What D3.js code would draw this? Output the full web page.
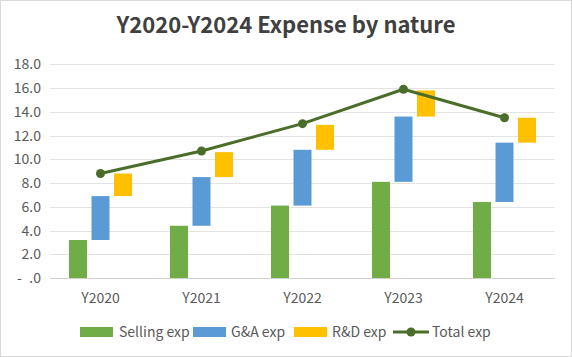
<!DOCTYPE html>
<html><head><meta charset="utf-8">
<script src="https://cdn.jsdelivr.net/npm/d3@7"></script>
<style>html,body{margin:0;padding:0;background:#fff;}</style>
</head><body>
<svg id="c" width="572" height="357"></svg>
<script>
const categories = ["Y2020","Y2021","Y2022","Y2023","Y2024"];
const sellingExp = [3.2, 4.4, 6.1, 8.1, 6.4];
const gaExp      = [3.7, 4.1, 4.7, 5.5, 5.0];
const rdExp      = [1.9, 2.1, 2.1, 2.2, 2.1];
const totalExp   = [8.8, 10.7, 13.0, 15.9, 13.5];
const yTicks = [0, 2, 4, 6, 8, 10, 12, 14, 16, 18];
const seriesNames = ["Selling exp", "G&A exp", "R&D exp", "Total exp"];

const svg = d3.select("#c");
const W = 572, H = 357;
const font = "'Noto Sans CJK SC', 'DejaVu Sans', sans-serif";
svg.append("rect").attr("x",0.5).attr("y",0.5).attr("width",W-1).attr("height",H-1)
  .attr("fill","#fff").attr("stroke","#D9D9D9");

const x = d3.scaleBand().domain(categories).range([50, 555]);
const y = d3.scaleLinear().domain([0, 18]).range([278, 64.3]);

// grid
svg.append("g").selectAll("line").data(yTicks).join("line")
  .attr("x1",50).attr("x2",555).attr("y1",d=>Math.round(y(d))+0.5).attr("y2",d=>Math.round(y(d))+0.5)
  .attr("stroke",d=>d===0?"#D0D0D0":"#E3E3E3").attr("stroke-width",1);

// y labels
const yl = svg.append("g");
yl.selectAll("text").data(yTicks).join("text")
  .attr("x",41).attr("y",d=>y(d)+5).attr("text-anchor","end")
  .attr("font-family",font).attr("font-size",14).attr("fill","#595959")
  .text(d=>d===0?".0":d.toFixed(1));
yl.append("text").attr("x",17).attr("y",y(0)+5).attr("font-family",font).attr("font-size",14)
  .attr("fill","#595959").text("-");

// x labels
svg.append("g").selectAll("text").data(categories).join("text")
  .attr("x",d=>x(d)+x.bandwidth()/2).attr("y",303).attr("text-anchor","middle")
  .attr("font-family",font).attr("font-size",14).attr("fill","#595959")
  .text(d=>d);

const bw = 18, gap = 4.5;
const colors = ["#70AD47","#5B9BD5","#FFC000"];
const bars = [];
categories.forEach((c,i)=>{
  const s = sellingExp[i], g = gaExp[i], r = rdExp[i];
  bars.push({c, k:0, lo:0, hi:s});
  bars.push({c, k:1, lo:s, hi:s+g});
  bars.push({c, k:2, lo:s+g, hi:s+g+r});
});
svg.append("g").selectAll("rect").data(bars).join("rect")
  .attr("x",d=>x(d.c)+x.bandwidth()/2 + (d.k-1)*(bw+gap) - bw/2)
  .attr("width",bw)
  .attr("y",d=>y(d.hi)).attr("height",d=>y(d.lo)-y(d.hi))
  .attr("fill",d=>colors[d.k]);

const lineColor = "#4A6E29";
const line = d3.line().x((d,i)=>x(categories[i])+x.bandwidth()/2).y(d=>y(d));
svg.append("path").attr("d",line(totalExp)).attr("fill","none")
  .attr("stroke",lineColor).attr("stroke-width",3).attr("stroke-linejoin","round");
svg.append("g").selectAll("circle").data(totalExp).join("circle")
  .attr("cx",(d,i)=>x(categories[i])+x.bandwidth()/2).attr("cy",d=>y(d)).attr("r",4.5)
  .attr("fill",lineColor);

// title
svg.append("text").attr("x",286).attr("y",33).attr("text-anchor","middle")
  .attr("font-family",font).attr("font-size",22).attr("font-weight","bold").attr("fill","#404040")
  .text("Y2020-Y2024 Expense by nature");

// legend
const lg = svg.append("g");
const legendItems = [
  {name:seriesNames[0], sx:80, tx:119, type:"bar", color:colors[0]},
  {name:seriesNames[1], sx:193, tx:231, type:"bar", color:colors[1]},
  {name:seriesNames[2], sx:294, tx:332, type:"bar", color:colors[2]},
  {name:seriesNames[3], sx:393, tx:432, type:"line", color:lineColor}
];
legendItems.forEach(it=>{
  if(it.type==="bar"){
    lg.append("rect").attr("x",it.sx).attr("y",327).attr("width",33).attr("height",10).attr("fill",it.color);
  } else {
    lg.append("line").attr("x1",it.sx).attr("x2",it.sx+36).attr("y1",332).attr("y2",332)
      .attr("stroke",it.color).attr("stroke-width",3);
    lg.append("circle").attr("cx",it.sx+18).attr("cy",332).attr("r",4.5).attr("fill",it.color);
  }
  lg.append("text").attr("x",it.tx).attr("y",337).attr("font-family",font).attr("font-size",14)
    .attr("fill","#595959").text(it.name);
});
</script>
</body></html>
